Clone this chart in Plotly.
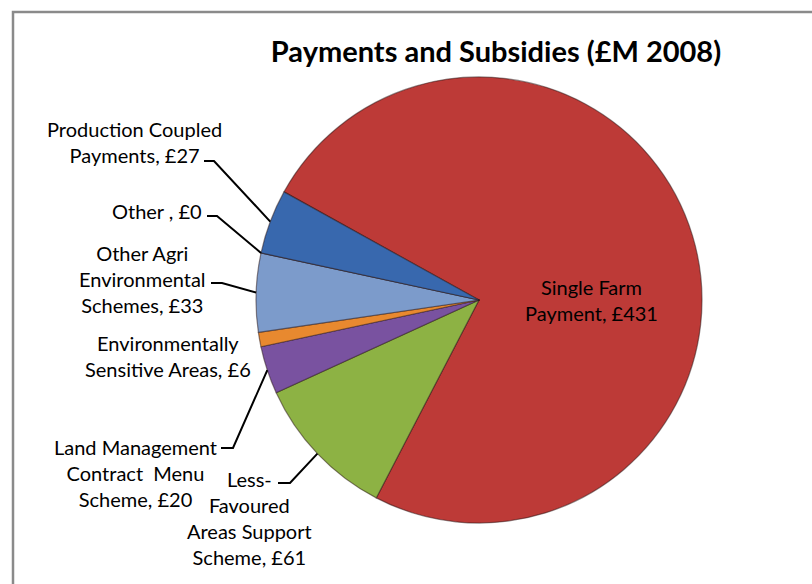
import math
import plotly.graph_objects as go

# Payments and subsidies, £M 2008 (drawn clockwise in this order)
labels = [
    "Single Farm Payment",
    "Less-Favoured Areas Support Scheme",
    "Land Management Contract  Menu Scheme",
    "Environmentally Sensitive Areas",
    "Other Agri Environmental Schemes",
    "Other ",
    "Production Coupled Payments",
]
values = [431, 61, 20, 6, 33, 0, 27]
colors = ["#BD3A37", "#8DB244", "#7952A0", "#E8892F", "#7C9BCB", "#5B7FBF", "#3868AE"]

# label text with manual line breaks
label_lines = [
    ["Single Farm", "Payment, £{v}"],
    ["Less-", "Favoured", "Areas Support", "Scheme, £{v}"],
    ["Land Management", "Contract  Menu", "Scheme, £{v}"],
    ["Environmentally", "Sensitive Areas, £{v}"],
    ["Other Agri", "Environmental", "Schemes, £{v}"],
    ["Other , £{v}"],
    ["Production Coupled", "Payments, £{v}"],
]

W, H = 812, 584
CX, CY, R = 479, 300, 223      # pie centre and radius in pixels
ROTATION = 299                 # start angle of first slice, clockwise from 12 o'clock

# text block centres (px) and leader elbows (start x, end x, y) per slice
text_pos = [(591, 300), (249, 518), (135, 473), (168, 356), (142, 279), (157, 211), (134, 142)]
elbows = [None, (278, 290, 483), (221, 233, 448), None, (211, 222, 283), (207, 217, 216), (204, 214, 161)]


def px(x):
    return x / W


def py(y):
    return 1 - y / H


fig = go.Figure(go.Pie(
    labels=labels,
    values=values,
    sort=False,
    direction="clockwise",
    rotation=ROTATION,
    textinfo="none",
    hoverinfo="label+value",
    marker=dict(colors=colors, line=dict(color="rgba(40,20,20,0.5)", width=1.2)),
    domain=dict(x=[px(CX - R), px(CX + R)], y=[py(CY + R), py(CY - R)]),
    showlegend=False,
))

total = sum(values)
annotations = []
shapes = []
cum = 0.0
for i, v in enumerate(values):
    mid = ROTATION + (cum + v / 2) / total * 360
    cum += v
    text = "<br>".join(s.format(v=v) for s in label_lines[i])
    tx, ty = text_pos[i]
    annotations.append(dict(
        x=px(tx), y=py(ty), xref="paper", yref="paper",
        text=text, showarrow=False, align="center",
        xanchor="center", yanchor="middle",
        font=dict(family="Lato", size=20, color="#000000"),
    ))
    if elbows[i] is not None:
        x0, x1, ey = elbows[i]
        ex = CX + R * math.sin(math.radians(mid))
        eyy = CY - R * math.cos(math.radians(mid))
        shapes.append(dict(
            type="path", xref="paper", yref="paper",
            path=f"M {px(x0)},{py(ey)} L {px(x1)},{py(ey)} L {px(ex)},{py(eyy)}",
            line=dict(color="#000000", width=2),
        ))

# outer chart frame
shapes.append(dict(
    type="rect", xref="paper", yref="paper",
    x0=px(13), x1=1.02, y0=-0.02, y1=py(12),
    line=dict(color="#8a8a8a", width=2.5),
))

fig.update_layout(
    width=W, height=H,
    margin=dict(l=0, r=0, t=0, b=0),
    paper_bgcolor="white",
    plot_bgcolor="white",
    title=dict(
        text="<b>Payments and Subsidies (£M 2008)</b>",
        x=px(496), xanchor="center", y=py(52), yanchor="middle",
        font=dict(family="Lato", size=29, color="#000000"),
    ),
    annotations=annotations,
    shapes=shapes,
)

fig.write_html("out.html")
